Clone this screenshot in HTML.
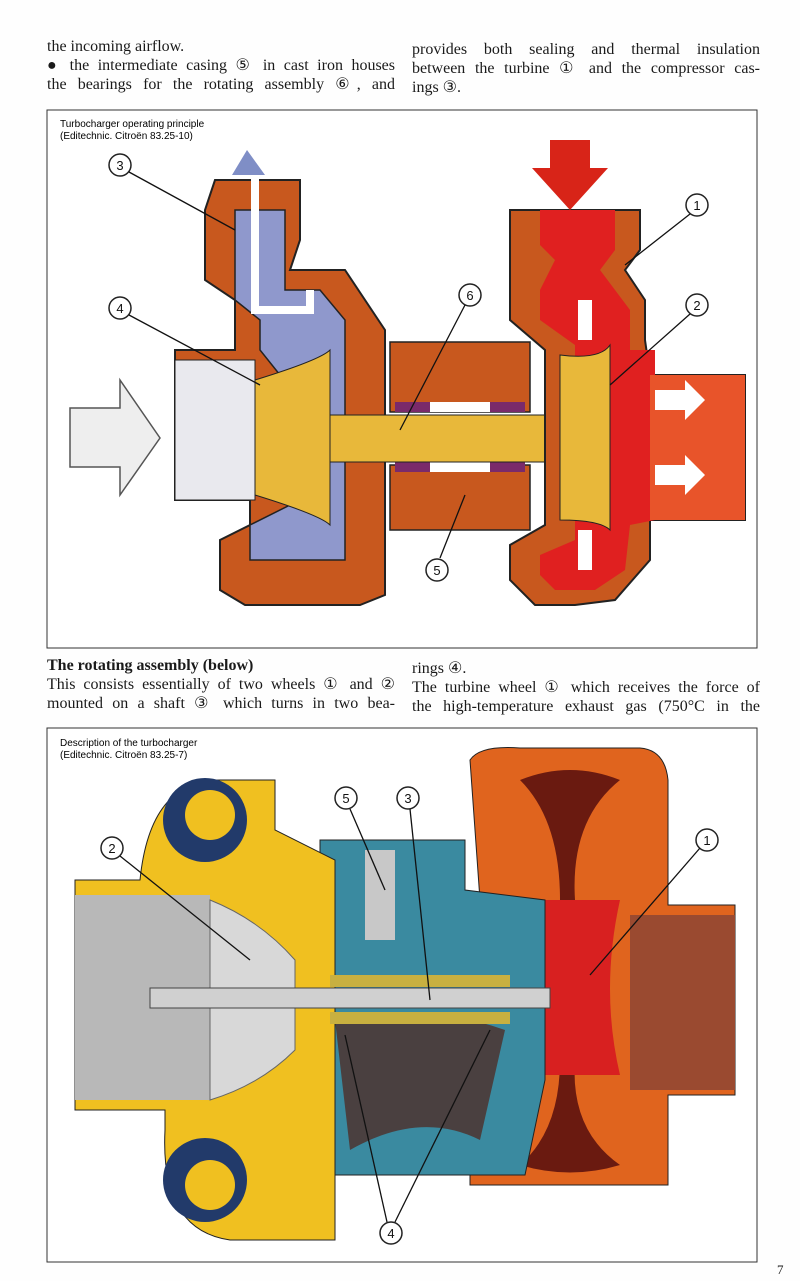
<!DOCTYPE html>
<html><head><meta charset="utf-8"><style>
body{margin:0;background:#fff;}
.pg{position:relative;width:800px;height:1281px;overflow:hidden;background:#fefefe;font-family:"Liberation Serif",serif;color:#1a1a1a;}
.t{position:absolute;font-size:16px;line-height:19px;width:348px;}
.t div{text-align:justify;text-align-last:justify;white-space:nowrap;}
.t div.l{text-align-last:left;}
svg{position:absolute;left:0;top:0;}
</style></head><body><div class="pg">
<div class="t" style="left:47px;top:37px"><div class="l">the incoming airflow.</div><div>● the intermediate casing ⑤ in cast iron houses</div><div>the bearings for the rotating assembly ⑥, and</div></div>
<div class="t" style="left:412px;top:40px"><div>provides both sealing and thermal insulation</div><div>between the turbine ① and the compressor cas-</div><div class="l">ings ③.</div></div>
<div class="t" style="left:47px;top:656px"><div class="l"><b>The rotating assembly (below)</b></div><div>This consists essentially of two wheels ① and ②</div><div>mounted on a shaft ③ which turns in two bea-</div></div>
<div class="t" style="left:412px;top:659px"><div class="l">rings ④.</div><div>The turbine wheel ① which receives the force of</div><div>the high-temperature exhaust gas (750°C in the</div></div>
<div style="position:absolute;left:777px;top:1262px;font-size:13px">7</div>
<svg width="800" height="1281" viewBox="0 0 800 1281" font-family="Liberation Sans,sans-serif">
<rect x="47" y="110" width="710" height="538" fill="#fff" stroke="#333" stroke-width="1"/>
<text x="60" y="127" font-size="10">Turbocharger operating principle</text>
<text x="60" y="139" font-size="10">(Editechnic. Citroën 83.25-10)</text>
<path d="M215 180 H300 V240 L290 270 H345 L385 330 V595 L360 605 H245 L220 590 V540 L250 525 L250 500 H175 V350 H235 V300 L205 280 V210 Z" fill="#c8581e" stroke="#222" stroke-width="2"/>
<path d="M235 210 H285 V290 H320 L345 320 V560 H250 V525 L300 500 V400 L260 350 L260 320 L235 300 Z" fill="#8f98cc" stroke="#222" stroke-width="1.5"/>
<polygon points="247,150 265,175 258,175 258,300 252,300 252,175 232,175" fill="#7f8ec6"/>
<path d="M255 175 V310 H310 V290" stroke="#fff" stroke-width="8" fill="none"/>
<rect x="175" y="360" width="80" height="140" fill="#e9e9ee" stroke="#222"/>
<polygon points="70,408 120,408 120,380 160,438 120,495 120,467 70,467" fill="#eeeeee" stroke="#555" stroke-width="1.5"/>
<path d="M255 380 Q320 360 330 350 V525 Q320 515 255 495 Z" fill="#e8b83a" stroke="#222"/>
<rect x="390" y="342" width="140" height="70" fill="#c8581e" stroke="#222" stroke-width="1.5"/>
<rect x="390" y="465" width="140" height="65" fill="#c8581e" stroke="#222" stroke-width="1.5"/>
<rect x="395" y="402" width="130" height="10" fill="#7a2a6a"/><rect x="430" y="402" width="60" height="10" fill="#fff"/>
<rect x="395" y="462" width="130" height="10" fill="#7a2a6a"/><rect x="430" y="462" width="60" height="10" fill="#fff"/>
<rect x="330" y="415" width="230" height="47" fill="#e8b83a" stroke="#222"/>
<path d="M510 210 H640 V250 L625 270 L645 300 V340 L650 375 H745 V520 H650 L650 560 L615 600 L575 605 H535 L510 580 V545 L545 525 V350 L510 320 Z" fill="#c8581e" stroke="#222" stroke-width="2"/>
<path d="M540 210 H615 V250 L600 270 L630 310 V350 H655 V520 L630 525 L625 570 L595 590 L555 590 L540 575 V555 L575 540 V345 L540 320 V290 L555 260 L540 245 Z" fill="#e02020"/>
<rect x="650" y="375" width="95" height="145" fill="#e8542a"/>
<polygon points="550,140 590,140 590,168 608,168 570,210 532,168 550,168" fill="#d82418"/>
<path d="M560 355 Q600 360 610 345 V530 Q600 520 560 520 Z" fill="#e8b83a" stroke="#222"/>
<rect x="578" y="300" width="14" height="40" fill="#fff"/><rect x="578" y="530" width="14" height="40" fill="#fff"/>
<polygon points="655,390 685,390 685,380 705,400 685,420 685,410 655,410" fill="#fff"/>
<polygon points="655,465 685,465 685,455 705,475 685,495 685,485 655,485" fill="#fff"/>
<g fill="#fff" stroke="#222" stroke-width="1.5" font-size="13" text-anchor="middle">
<circle cx="120" cy="165" r="11"/><circle cx="120" cy="308" r="11"/><circle cx="470" cy="295" r="11"/>
<circle cx="697" cy="205" r="11"/><circle cx="697" cy="305" r="11"/><circle cx="437" cy="570" r="11"/></g>
<g font-size="13" text-anchor="middle" fill="#111"><text x="120" y="170">3</text><text x="120" y="313">4</text><text x="470" y="300">6</text><text x="697" y="210">1</text><text x="697" y="310">2</text><text x="437" y="575">5</text></g>
<g stroke="#111" stroke-width="1.3"><line x1="129" y1="172" x2="235" y2="230"/><line x1="129" y1="315" x2="260" y2="385"/><line x1="465" y1="305" x2="400" y2="430"/><line x1="690" y1="214" x2="625" y2="265"/><line x1="690" y1="314" x2="610" y2="385"/><line x1="440" y1="558" x2="465" y2="495"/></g>

<rect x="47" y="728" width="710" height="534" fill="#fff" stroke="#333"/>
<text x="60" y="746" font-size="10">Description of the turbocharger</text>
<text x="60" y="758" font-size="10">(Editechnic. Citroën 83.25-7)</text>
<path d="M470 760 Q480 745 520 748 H640 Q665 750 668 780 V905 H735 V1095 H668 V1185 L470 1185 V1020 L480 900 Z" fill="#e0641e" stroke="#222"/>
<rect x="630" y="915" width="105" height="175" fill="#9a4a30"/>
<path d="M520 780 Q570 760 620 780 Q570 820 575 900 H560 Q560 820 520 780Z" fill="#6a1a10"/>
<path d="M520 1165 Q570 1180 620 1165 Q570 1130 575 1060 H560 Q560 1130 520 1165Z" fill="#6a1a10"/>
<path d="M545 900 H620 Q600 990 620 1075 H545 Z" fill="#d82020"/>
<path d="M320 840 H465 V890 L545 900 V1080 L525 1175 H320 Z" fill="#3a8aa0" stroke="#222"/>
<path d="M335 1020 Q420 1000 505 1030 L480 1140 Q420 1110 350 1150 Z" fill="#4a4040"/>
<rect x="365" y="850" width="30" height="90" fill="#c8c8c8"/>
<path d="M75 880 H140 Q150 780 220 780 H275 V830 L335 860 V1240 H230 Q160 1230 165 1130 V1110 H75 Z" fill="#f0c020" stroke="#222"/>
<circle cx="205" cy="820" r="42" fill="#223a6a"/><circle cx="205" cy="1180" r="42" fill="#223a6a"/>
<circle cx="210" cy="815" r="25" fill="#f0c020"/><circle cx="210" cy="1185" r="25" fill="#f0c020"/>
<rect x="75" y="895" width="135" height="205" fill="#b8b8b8"/>
<path d="M210 900 Q260 920 295 960 V1050 Q260 1085 210 1100 Z" fill="#d8d8d8" stroke="#666"/>
<rect x="150" y="988" width="400" height="20" fill="#d0d0d0" stroke="#444"/>
<rect x="330" y="975" width="180" height="12" fill="#c8b040"/><rect x="330" y="1012" width="180" height="12" fill="#c8b040"/>
<g fill="#fff" stroke="#222" stroke-width="1.5"><circle cx="112" cy="848" r="11"/><circle cx="346" cy="798" r="11"/><circle cx="408" cy="798" r="11"/><circle cx="707" cy="840" r="11"/><circle cx="391" cy="1233" r="11"/></g>
<g font-size="13" text-anchor="middle" fill="#111"><text x="112" y="853">2</text><text x="346" y="803">5</text><text x="408" y="803">3</text><text x="707" y="845">1</text><text x="391" y="1238">4</text></g>
<g stroke="#111" stroke-width="1.3"><line x1="120" y1="856" x2="250" y2="960"/><line x1="350" y1="809" x2="385" y2="890"/><line x1="410" y1="809" x2="430" y2="1000"/><line x1="700" y1="848" x2="590" y2="975"/><line x1="387" y1="1222" x2="345" y2="1035"/><line x1="395" y1="1222" x2="490" y2="1030"/></g>
</svg>
</div></body></html>
